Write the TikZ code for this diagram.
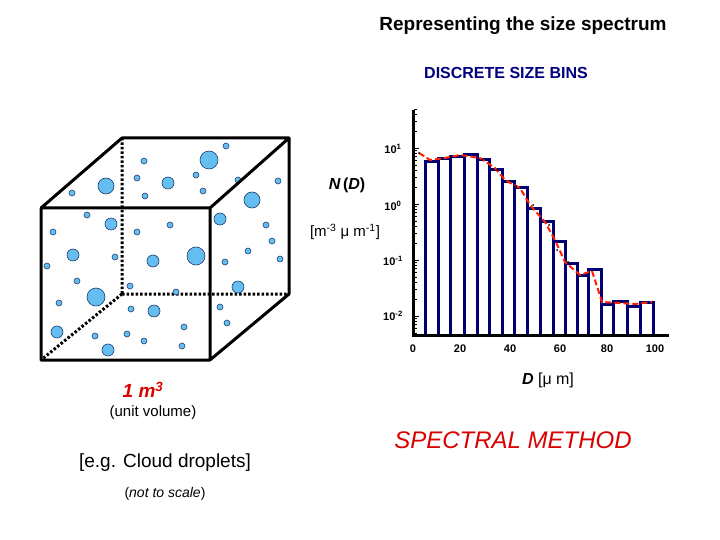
\documentclass[tikz,border=0pt]{standalone}
\usepackage{fontspec}
\setmainfont{Liberation Sans}
\definecolor{dropblue}{RGB}{100,190,240}
\definecolor{dropedge}{RGB}{30,60,110}
\begin{document}
\begin{tikzpicture}[x=1pt,y=-1pt,
  cubeedge/.style={line width=3pt},
  hidden/.style={line width=3pt,dash pattern=on 2.5pt off 2pt},
  drop/.style={fill=dropblue,draw=dropedge,line width=0.6pt},
  bin/.style={draw=blue!45!black,line width=3pt,fill=white},
  fit/.style={draw=red!75!orange,line width=2pt,dash pattern=on 6pt off 3pt},
  lbl/.style={font=\fontsize{11}{12}\selectfont\bfseries}]
\useasboundingbox (0,0) rectangle (720,540);
\node[font=\fontsize{19}{22}\selectfont\bfseries] (title) at (523,26) {Representing the size spectrum};
\node[font=\fontsize{16}{18}\selectfont\bfseries,text=blue!50!black] (dsb) at (506,73) {DISCRETE SIZE BINS};
% cube
\coordinate (A) at (41,208); \coordinate (B) at (210,208); \coordinate (C) at (210,360); \coordinate (D) at (41,360);
\coordinate (E) at (122,138); \coordinate (F) at (289,138); \coordinate (G) at (289,294); \coordinate (H) at (122,294);
\draw[hidden] (E)--(H) (H)--(G) (H)--(D);
\foreach \x/\y/\r in {209/160/9,106/186/8,168/183/6,226/146/3,144/161/3,137/178/3,196/175/3,203/191/3,145/196/3,72/193/3,238/180/3,278/181/3,252/200/8,87/215/3,111/224/6,53/232/3,137/232/3,170/225/3,220/219/6,266/225/3,272/241/3,73/255/6,115/257/3,153/261/6,196/256/9,248/251/3,225/262/3,280/259/3,47/266/3,77/281/3,96/297/9,130/286/3,176/292/3,238/287/6,59/303/3,131/309/3,154/311/6,220/307/3,227/323/3,184/327/3,57/332/6,95/336/3,127/334/3,144/341/3,182/346/3,108/350/6}
  \filldraw[drop] (\x,\y) circle (\r);
\draw[cubeedge,line join=round] (A)--(B)--(C)--(D)--cycle (A)--(E)--(F)--(B) (F)--(G)--(C);
\node[font=\fontsize{19}{22}\selectfont\bfseries\itshape,text=red!85!black] (vol) at (143,390) {1 m\textsuperscript{3}};
\node[font=\fontsize{15}{18}\selectfont] (uv) at (153,413) {(unit volume)};
\node[font=\fontsize{19}{22}\selectfont] (eg) at (165,463) {[e.g. Cloud droplets]};
\node[font=\fontsize{14}{16}\selectfont] (ns) at (165,494) {(\textit{not to scale})};
% chart
\foreach \l/\r/\t in {425/438/162,438/450/159,450/464/157,464/477/155,477/489/160,489/502/170,502/514/182,514/527/188,527/540/209,540/553/222,553/565/241,565/577/263,577/588/275,588/601/269,601/613/304,613/627/301,627/640/306,640/653/302}
  \draw[bin] (\l,335) rectangle (\r,\t);
\draw[fit] (419,153)--(430,160)--(445,158)--(460,155)--(480,158)--(495,168)--(505,180)--(520,188)--(530,205)--(545,222)--(555,240)--(565,262)--(580,275)--(592,271)--(602,302)--(620,303)--(635,304)--(652,302);
\foreach \x/\y in {419/153,482/160,497/170,516/186,533/205,549/225,557/250,568/262}
  \fill (\x,\y) circle (1);
\coordinate (O) at (413,335);
\coordinate (Ytop) at (413,110);
\coordinate (Xend) at (669,335);
\draw[line width=3pt] (Ytop)--(O)--(Xend);
\begin{scope}
\clip (400,110) rectangle (430,333);
\foreach \d in {92,148,204,260,316} {
  \foreach \k in {2,...,9} \draw[line width=0.6pt] (414,{\d+56-56*log10(\k)})--(417,{\d+56-56*log10(\k)});
}
\end{scope}
\foreach \d in {148,204,260,316} \draw[line width=0.8pt] (414,\d)--(419,\d);
\node[lbl] (y1) at (393,149) {10\textsuperscript{1}};
\node[lbl] (y0) at (393,206) {10\textsuperscript{0}};
\node[lbl] (ym1) at (393,261) {10\textsuperscript{-1}};
\node[lbl] (ym2) at (393,316) {10\textsuperscript{-2}};
\foreach \v/\x in {0/413,20/460,40/510,60/560,80/607,100/655}
  \node[lbl] at (\x,349) {\v};
\node[font=\fontsize{16}{18}\selectfont\bfseries\itshape] (nd) at (347,185) {N\,\textup{(}D\textup{)}};
\node[font=\fontsize{15}{18}\selectfont] (unit) at (345,232) {[m\textsuperscript{-3} μ m\textsuperscript{-1}]};
\node[font=\fontsize{16}{18}\selectfont] (dl) at (548,380) {\textbf{\textit{D}} [μ m]};
\node[font=\fontsize{24}{28}\selectfont\itshape,text=red!85!black] (sm) at (513,440) {SPECTRAL METHOD};
\end{tikzpicture}
\end{document}
